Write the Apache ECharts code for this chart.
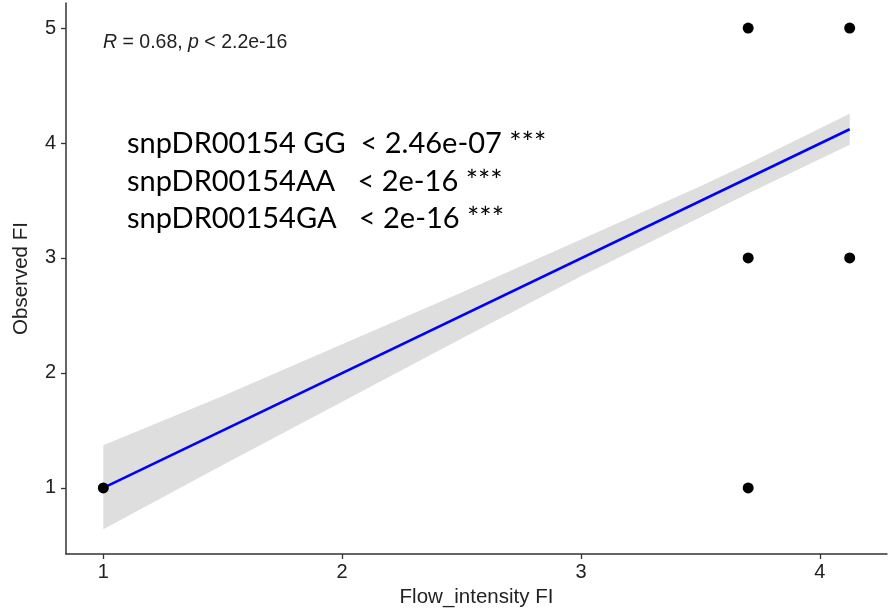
<!DOCTYPE html>
<html>
<head>
<meta charset="utf-8">
<script src="https://cdn.jsdelivr.net/npm/echarts@6/dist/echarts.min.js"></script>
<style>html,body{margin:0;padding:0;background:#fff;}#chart{width:895px;height:613px;}</style>
</head>
<body>
<div id="chart"></div>
<script>
// ---- data ----
const xTicks = [1, 2, 3, 4];
const yTicks = [1, 2, 3, 4, 5];
const pointsX = [1, 3.7, 4.125, 3.7, 4.125, 3.7];
const pointsY = [1, 5, 5, 3, 3, 1];
const fitX = [1, 4.125];
const fitY = [1.0, 4.12];
const bandX = [1, 1.5, 2, 2.5, 3, 3.5, 3.7, 4.125];
const bandLower = [0.64, 1.20, 1.75, 2.30, 2.84, 3.355, 3.56, 3.985];
const bandUpper = [1.37, 1.80, 2.25, 2.70, 3.16, 3.625, 3.82, 4.255];
const corLabel = ['R', ' = 0.68, ', 'p', ' < 2.2e-16'];
const snpLines = ['snpDR00154 GG  < 2.46e-07 ***', 'snpDR00154AA   < 2e-16 ***', 'snpDR00154GA   < 2e-16 ***'];

const chart = echarts.init(document.getElementById('chart'), null, {renderer: 'canvas'});
const axisCommon = {
  type: 'value',
  axisLine: {show: true, lineStyle: {color: '#333', width: 1.5}},
  axisTick: {show: true, length: 5, lineStyle: {color: '#333', width: 1.3}},
  splitLine: {show: false},
  axisLabel: {color: '#222', fontFamily: 'Liberation Sans', fontSize: 20},
  nameLocation: 'middle',
  nameTextStyle: {color: '#222', fontFamily: 'Liberation Sans', fontSize: 20.5}
};
const option = {
  backgroundColor: '#fff',
  animation: false,
  grid: {left: 66, right: 8, top: 3, bottom: 59, containLabel: false},
  xAxis: Object.assign({}, axisCommon, {
    min: 0.84375, max: 4.28125,
    name: 'Flow_intensity FI', nameGap: 33,
    axisTick: Object.assign({}, axisCommon.axisTick, {customValues: xTicks}),
    axisLabel: Object.assign({}, axisCommon.axisLabel, {customValues: xTicks, margin: 8})
  }),
  yAxis: Object.assign({}, axisCommon, {
    min: 0.425, max: 5.218,
    name: 'Observed FI', nameGap: 34,
    axisTick: Object.assign({}, axisCommon.axisTick, {customValues: yTicks}),
    axisLabel: Object.assign({}, axisCommon.axisLabel, {customValues: yTicks, margin: 10})
  }),
  series: [
    {
      type: 'custom',
      z: 1,
      data: bandX.map((x, i) => [x, bandLower[i], bandUpper[i]]),
      renderItem: function (params, api) {
        if (params.dataIndex !== 0) return null;
        const pts = [];
        for (let i = 0; i < bandX.length; i++) pts.push(api.coord([bandX[i], bandUpper[i]]));
        for (let i = bandX.length - 1; i >= 0; i--) pts.push(api.coord([bandX[i], bandLower[i]]));
        return {type: 'polygon', shape: {points: pts}, style: {fill: '#dedede'}};
      }
    },
    {
      type: 'line', z: 2,
      data: fitX.map((x, i) => [x, fitY[i]]),
      symbol: 'none',
      lineStyle: {color: '#0000ff', width: 2.6}
    },
    {
      type: 'scatter', z: 3,
      data: pointsX.map((x, i) => [x, pointsY[i]]),
      symbolSize: 11,
      itemStyle: {color: '#000', opacity: 1}
    }
  ],
  graphic: [
    {
      type: 'text', left: 103, top: 33,
      style: {
        text: '{i|' + corLabel[0] + '}' + corLabel[1] + '{i|' + corLabel[2] + '}' + corLabel[3],
        fontFamily: 'Liberation Sans', fontSize: 19.5, fill: '#222',
        rich: {i: {fontStyle: 'italic', fontFamily: 'Liberation Sans', fontSize: 19.5, fill: '#222'}}
      }
    },
    {
      type: 'text', left: 127, top: 125,
      style: {
        text: snpLines.join('\n'),
        fontFamily: 'Lato', fontSize: 29, lineHeight: 37.5, fill: '#000'
      }
    }
  ]
};
chart.setOption(option);
</script>
</body>
</html>
